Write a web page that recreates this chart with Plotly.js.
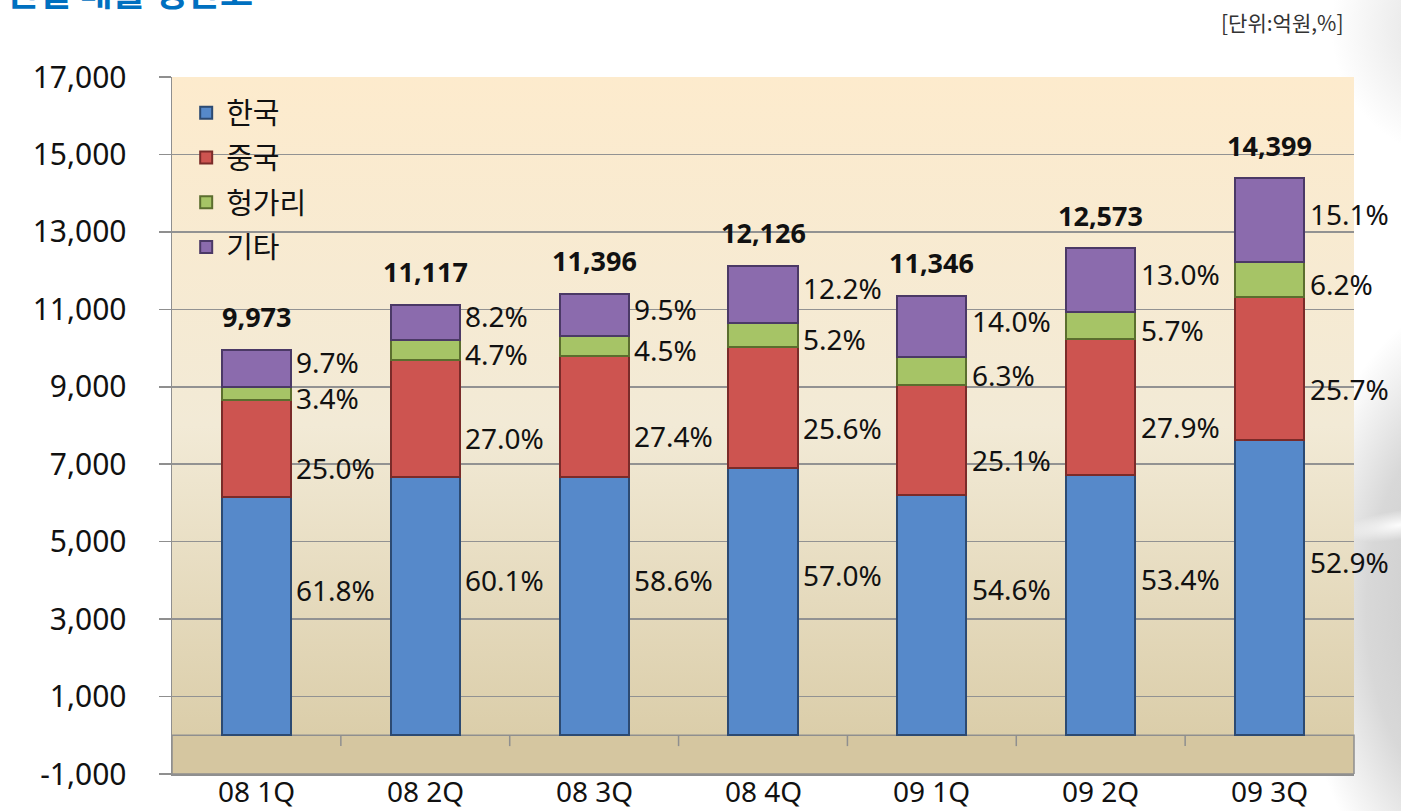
<!DOCTYPE html>
<html>
<head>
<meta charset="utf-8">
<script src="https://cdn.plot.ly/plotly-3.0.1.min.js"></script>
<style>
  html, body { margin: 0; padding: 0; background: #ffffff; }
  #wrap { position: relative; width: 1401px; height: 811px; overflow: hidden; background: #ffffff; }
  #deco1 { position: absolute; left: 1300px; top: 300px; width: 260px; height: 620px;
           background: radial-gradient(ellipse at 70% 50%, #c4c4c4 0%, #d8d8d8 45%, rgba(255,255,255,0) 72%); }
  #deco2 { position: absolute; left: 1330px; top: -60px; width: 160px; height: 220px;
           background: radial-gradient(ellipse at 80% 40%, #dcdcdc 0%, rgba(255,255,255,0) 70%); }
  #deco3 { position: absolute; left: 1340px; top: 510px; width: 120px; height: 30px; transform: rotate(-8deg);
           background: radial-gradient(ellipse at 50% 50%, rgba(255,255,255,0.95) 0%, rgba(255,255,255,0) 70%); }
  #chart { position: absolute; left: 0; top: 0; width: 1401px; height: 811px; }
</style>
</head>
<body>
<div id="wrap">
  <div id="deco1"></div>
  <div id="deco2"></div>
  <div id="deco3"></div>
  <div id="chart"></div>
</div>
<script>
// ---- data ----
const categories = ['08 1Q', '08 2Q', '08 3Q', '08 4Q', '09 1Q', '09 2Q', '09 3Q'];
const seriesNames = ['한국', '중국', '헝가리', '기타'];
const korea   = [6163, 6681, 6678, 6912, 6195, 6714, 7617];
const china   = [2493, 3002, 3123, 3104, 2848, 3508, 3701];
const hungary = [339, 523, 513, 631, 715, 717, 893];
const others  = [967, 912, 1083, 1479, 1588, 1634, 2174];
const totals  = [9973, 11117, 11396, 12126, 11346, 12573, 14399];
const koreaPct   = ['61.8%', '60.1%', '58.6%', '57.0%', '54.6%', '53.4%', '52.9%'];
const chinaPct   = ['25.0%', '27.0%', '27.4%', '25.6%', '25.1%', '27.9%', '25.7%'];
const hungaryPct = ['3.4%', '4.7%', '4.5%', '5.2%', '6.3%', '5.7%', '6.2%'];
const othersPct  = ['9.7%', '8.2%', '9.5%', '12.2%', '14.0%', '13.0%', '15.1%'];
const yTickVals  = [-1000, 1000, 3000, 5000, 7000, 9000, 11000, 13000, 15000, 17000];
const yTickText  = ['-1,000', '1,000', '3,000', '5,000', '7,000', '9,000', '11,000', '13,000', '15,000', '17,000'];

// ---- styles ----
const FONT = "'Noto Sans', 'Noto Sans CJK KR', sans-serif";
const KFONT = "'Noto Sans CJK KR', 'Noto Sans', sans-serif";
const fills = ['#5689CA', '#CD5450', '#A6C466', '#8B6BAD'];
const edges = ['#2C4A72', '#7A2B29', '#5B6E2E', '#4B3966'];
const BAR_W = 0.41;
const labelShift = [-26, 20, 4, -6];

const series = [korea, china, hungary, others];
const pcts = [koreaPct, chinaPct, hungaryPct, othersPct];

const traces = series.map((vals, i) => ({
  type: 'bar',
  name: seriesNames[i],
  x: categories,
  y: vals,
  width: BAR_W,
  legendgroup: 'g' + i,
  marker: { color: fills[i], line: { color: edges[i], width: 2 } },
  hoverinfo: 'x+y+name'
}));

const annotations = [];
categories.forEach((c, j) => {
  let base = 0;
  series.forEach((vals, i) => {
    const mid = base + vals[j] / 2;
    annotations.push({
      x: c, y: mid, xref: 'x', yref: 'y',
      text: pcts[i][j], showarrow: false,
      xanchor: 'left', yanchor: 'middle',
      xshift: 38, yshift: -labelShift[i],
      font: { family: FONT, size: 28, color: '#111111' }
    });
    base += vals[j];
  });
  const stackTop = series.reduce((s, v) => s + v[j], 0);
  annotations.push({
    x: c, y: stackTop, xref: 'x', yref: 'y',
    text: '<b>' + totals[j].toLocaleString('en-US') + '</b>', showarrow: false,
    xanchor: 'center', yanchor: 'middle', yshift: 33,
    font: { family: FONT, size: 27, color: '#111111' }
  });
  annotations.push({
    x: c, y: 0, xref: 'x', yref: 'paper',
    text: c, showarrow: false, borderpad: 0,
    xanchor: 'center', yanchor: 'middle', yshift: -17,
    font: { family: FONT, size: 28, color: '#111111' }
  });
});

annotations.push({
  xref: 'paper', yref: 'paper', x: -0.143, y: 1.084, xanchor: 'left', yanchor: 'bottom',
  text: '<b>연결 매출 생산고</b>', showarrow: false,
  font: { family: KFONT, size: 36, color: '#0070C0' }
});
annotations.push({
  xref: 'paper', yref: 'paper', x: 0.993, y: 1.079, xanchor: 'right', yanchor: 'middle',
  text: '[단위:억원,%]', showarrow: false,
  font: { family: KFONT, size: 21, color: '#333333' }
});

const shapes = [{
  type: 'rect', xref: 'paper', yref: 'y', x0: 0, x1: 1, y0: -1000, y1: 0,
  fillcolor: '#D5C6A0', line: { color: '#8f8f8f', width: 1.5 }, layer: 'between'
}];
for (let k = 0; k < categories.length - 1; k++) {
  shapes.push({
    type: 'line', xref: 'x', yref: 'y', x0: k + 0.5, x1: k + 0.5, y0: 0, y1: -280,
    line: { color: '#8f8f8f', width: 1.5 }, layer: 'between'
  });
}

const gradSvg = '<svg xmlns="http://www.w3.org/2000/svg" width="100" height="100" preserveAspectRatio="none">' +
  '<defs><linearGradient id="g" x1="0" y1="0" x2="0" y2="1">' +
  '<stop offset="0" stop-color="#FDEBCD"/><stop offset="0.5" stop-color="#F2EAD6"/>' +
  '<stop offset="1" stop-color="#D8CAA4"/></linearGradient></defs>' +
  '<rect width="100" height="100" fill="url(#g)"/></svg>';

const layout = {
  width: 1401, height: 811,
  margin: { l: 172, r: 47, t: 77, b: 37 },
  paper_bgcolor: 'rgba(0,0,0,0)',
  plot_bgcolor: 'rgba(0,0,0,0)',
  barmode: 'stack',
  showlegend: true,
  legend: {
    x: 0.012, y: 0.985, xanchor: 'left', yanchor: 'top',
    bgcolor: 'rgba(0,0,0,0)', traceorder: 'grouped', tracegroupgap: 4,
    font: { family: KFONT, size: 29, color: '#111111' }
  },
  xaxis: {
    type: 'category', range: [-0.5, 6.5],
    showgrid: false, zeroline: false,
    showline: true, linecolor: '#8f8f8f', linewidth: 1.5,
    ticks: '', showticklabels: false
  },
  yaxis: {
    range: [-1000, 17000], tickvals: yTickVals, ticktext: yTickText,
    showgrid: true, gridcolor: '#929292', gridwidth: 1.5,
    zeroline: false, showline: true, linecolor: '#8f8f8f', linewidth: 1.5,
    ticks: 'outside', ticklen: 12, tickcolor: '#8f8f8f', tickwidth: 1.5,
    ticklabelstandoff: 26,
    tickfont: { family: FONT, size: 30, color: '#111111' }
  },
  images: [{
    source: 'data:image/svg+xml;charset=utf-8,' + encodeURIComponent(gradSvg),
    xref: 'paper', yref: 'paper', x: 0, y: 1, sizex: 1, sizey: 1,
    sizing: 'stretch', xanchor: 'left', yanchor: 'top', layer: 'below'
  }],
  shapes: shapes,
  annotations: annotations
};

Plotly.newPlot('chart', traces, layout, { displayModeBar: false, staticPlot: true });
</script>
</body>
</html>
